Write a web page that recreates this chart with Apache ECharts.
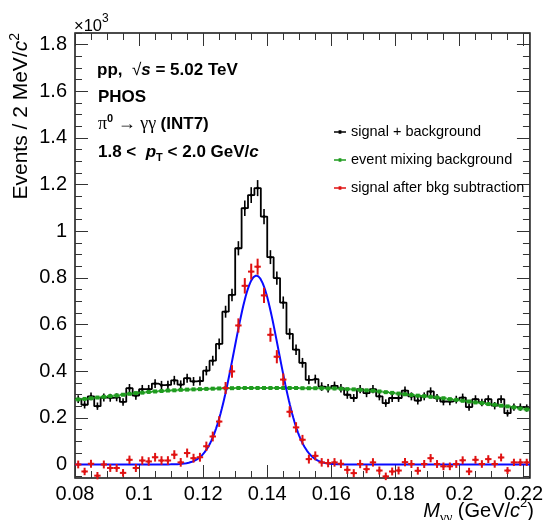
<!DOCTYPE html>
<html>
<head>
<meta charset="utf-8">
<script src="https://cdn.jsdelivr.net/npm/echarts@6/dist/echarts.min.js"></script>
<style>
  html, body { margin: 0; padding: 0; background: #fff; }
  #chart { width: 546px; height: 520px; }
</style>
</head>
<body>
<div id="chart"></div>
<script>
// Invariant-mass histogram binning (GeV/c^2)
const massLow = 0.08;
const binWidth = 0.002;

// Same-event pairs: signal + background (x10^3 counts per bin)
const sigPlusBkg = [
  0.280, 0.256, 0.292, 0.250, 0.287, 0.286, 0.288, 0.268, 0.327, 0.295,
  0.323, 0.323, 0.347, 0.340, 0.341, 0.361, 0.342, 0.370, 0.356, 0.358,
  0.402, 0.445, 0.517, 0.655, 0.727, 0.927, 1.099, 1.155, 1.185, 1.063,
  0.889, 0.799, 0.694, 0.560, 0.492, 0.436, 0.363, 0.366, 0.334, 0.327,
  0.337, 0.327, 0.299, 0.285, 0.323, 0.306, 0.323, 0.292, 0.263, 0.285,
  0.285, 0.317, 0.292, 0.274, 0.292, 0.313, 0.285, 0.270, 0.270, 0.278,
  0.287, 0.246, 0.280, 0.266, 0.280, 0.252, 0.280, 0.220, 0.246, 0.246,
  0.242
];

// Normalised mixed-event background
const mixedBkg = [
  0.279, 0.281, 0.284, 0.287, 0.290, 0.293, 0.296, 0.299, 0.303, 0.306,
  0.308, 0.311, 0.313, 0.315, 0.317, 0.318, 0.320, 0.321, 0.322, 0.323,
  0.324, 0.325, 0.326, 0.327, 0.327, 0.328, 0.328, 0.328, 0.328, 0.328,
  0.328, 0.328, 0.328, 0.328, 0.328, 0.327, 0.327, 0.327, 0.327, 0.326,
  0.326, 0.325, 0.323, 0.322, 0.320, 0.318, 0.316, 0.313, 0.310, 0.307,
  0.304, 0.301, 0.298, 0.295, 0.293, 0.290, 0.287, 0.284, 0.280, 0.277,
  0.273, 0.270, 0.266, 0.263, 0.259, 0.256, 0.252, 0.249, 0.245, 0.240,
  0.236
];

// Signal after background subtraction
const sigAfterSub = [
  0.000, -0.030, 0.003, -0.048, 0.000, -0.015, -0.015, -0.036, 0.020, -0.015,
  0.017, 0.013, 0.031, 0.017, 0.017, 0.042, 0.009, 0.049, 0.027, 0.031,
  0.078, 0.120, 0.184, 0.328, 0.399, 0.596, 0.766, 0.827, 0.848, 0.725,
  0.556, 0.462, 0.364, 0.226, 0.159, 0.106, 0.023, 0.037, 0.009, 0.006,
  0.009, 0.003, -0.023, -0.037, 0.002, -0.020, 0.009, -0.026, -0.051, -0.030,
  -0.026, 0.010, 0.002, -0.027, 0.002, 0.027, 0.002, -0.008, -0.008, 0.002,
  0.018, -0.030, 0.020, 0.002, 0.023, 0.002, 0.030, -0.026, 0.009, 0.009,
  0.009
];

// Gaussian peak fit parameters
const fitAmplitude = 0.81;
const fitMean = 0.1366;
const fitSigma = 0.0069;

// Axis ticks
const xMajorTicks = [0.08, 0.1, 0.12, 0.14, 0.16, 0.18, 0.2, 0.22];
const yMajorTicks = [0, 0.2, 0.4, 0.6, 0.8, 1, 1.2, 1.4, 1.6, 1.8];
const yRange = [-0.058, 1.85];

// ---------------------------------------------------------------
const xMin = massLow;
const xMax = +(massLow + sigPlusBkg.length * binWidth).toFixed(4);
const centers = sigPlusBkg.map((_, i) => +(massLow + (i + 0.5) * binWidth).toFixed(4));
const countErr = v => Math.sqrt(Math.max(v, 0) * 1000) / 1000;   // Poisson, counts in units of 10^3

function minorTicks(majors, sub, lo, hi) {
  const step = (majors[1] - majors[0]) / sub;
  const out = [];
  let v = majors[0];
  while (v - step >= lo - 1e-9) v -= step;
  for (; v <= hi + 1e-9; v += step) out.push(+v.toFixed(5));
  return out;
}
const xMinorTicks = minorTicks(xMajorTicks, 4, xMin, xMax);
const yMinorTicks = minorTicks(yMajorTicks, 4, yRange[0], yRange[1]);

const FONT = 'Liberation Sans, Arial, Helvetica, sans-serif';
const SERIF = 'Liberation Serif, Times New Roman, serif';
const fmt = v => String(+(+v).toFixed(3));

function xAxisDef(position, ticks, len, withLabels) {
  return {
    type: 'value', position, min: xMin, max: xMax,
    axisLine: { show: false, onZero: false },
    splitLine: { show: false },
    axisTick: { show: true, inside: true, length: len, customValues: ticks,
                lineStyle: { color: '#333', width: 1 } },
    axisLabel: withLabels
      ? { show: true, customValues: ticks, formatter: fmt, fontSize: 20, color: '#000', fontFamily: FONT, margin: 6 }
      : { show: false }
  };
}
function yAxisDef(position, ticks, len, withLabels) {
  return {
    type: 'value', position, min: yRange[0], max: yRange[1],
    axisLine: { show: false, onZero: false },
    splitLine: { show: false },
    axisTick: { show: true, inside: true, length: len, customValues: ticks,
                lineStyle: { color: '#333', width: 1 } },
    axisLabel: withLabels
      ? { show: true, customValues: ticks, formatter: fmt, fontSize: 20, color: '#000', fontFamily: FONT, margin: 8 }
      : { show: false }
  };
}

const BLACK = '#000000', GREEN = '#1f9c1f', RED = '#e01212', BLUE = '#0a0aff';

// histogram outline: bin-centre points with the outer edges added
const histLine = [[xMin, sigPlusBkg[0]]]
  .concat(centers.map((x, i) => [x, sigPlusBkg[i]]))
  .concat([[xMax, sigPlusBkg[sigPlusBkg.length - 1]]]);

const fitCurve = [];
for (let k = 0; k <= 400; k++) {
  const x = xMin + (xMax - xMin) * k / 400;
  fitCurve.push([x, fitAmplitude * Math.exp(-0.5 * Math.pow((x - fitMean) / fitSigma, 2))]);
}

function crossRenderer(color, opts) {
  return function (params, api) {
    const x = api.value(0), y = api.value(1), e = api.value(2);
    const c = api.coord([x, y]);
    const children = [];
    if (opts.horizontal) {
      const l = api.coord([x - binWidth / 2, y]), r = api.coord([x + binWidth / 2, y]);
      children.push({ type: 'line', shape: { x1: l[0], y1: c[1], x2: r[0], y2: c[1] },
                      style: { stroke: color, lineWidth: opts.width } });
    }
    if (opts.vertical) {
      const t = api.coord([x, y + e]), b = api.coord([x, y - e]);
      children.push({ type: 'line', shape: { x1: c[0], y1: t[1], x2: c[0], y2: b[1] },
                      style: { stroke: color, lineWidth: opts.width } });
    }
    children.push({ type: opts.marker === 'rect' ? 'rect' : 'circle',
                    shape: opts.marker === 'rect'
                      ? { x: c[0] - opts.size / 2, y: c[1] - opts.size / 2, width: opts.size, height: opts.size }
                      : { cx: c[0], cy: c[1], r: opts.size / 2 },
                    style: { fill: color } });
    return { type: 'group', children };
  };
}

const legendIcon = 'path://M0,1h12v1.6h-12z M4.6,0h2.8v3.6h-2.8z';

const chart = echarts.init(document.getElementById('chart'), null, { renderer: 'canvas' });
chart.setOption({
  animation: false,
  backgroundColor: '#ffffff',
  grid: { left: 75, right: 16, top: 33, bottom: 42, show: true, borderColor: '#111', borderWidth: 1.5, backgroundColor: 'transparent' },
  xAxis: [
    xAxisDef('bottom', xMajorTicks, 13, true),
    xAxisDef('bottom', xMinorTicks, 7, false),
    xAxisDef('top', xMajorTicks, 13, false),
    xAxisDef('top', xMinorTicks, 7, false)
  ],
  yAxis: [
    yAxisDef('left', yMajorTicks, 13, true),
    yAxisDef('left', yMinorTicks, 7, false),
    yAxisDef('right', yMajorTicks, 13, false),
    yAxisDef('right', yMinorTicks, 7, false)
  ],
  legend: {
    orient: 'vertical', left: 334, top: 124, padding: 0, itemWidth: 12, itemHeight: 3.6, itemGap: 12,
    selectedMode: false,
    textStyle: { fontSize: 14.5, color: '#000', fontFamily: FONT, lineHeight: 16 },
    data: [
      { name: 'signal + background', icon: legendIcon, itemStyle: { color: BLACK } },
      { name: 'event mixing background', icon: legendIcon, itemStyle: { color: GREEN } },
      { name: 'signal after bkg subtraction', icon: legendIcon, itemStyle: { color: RED } }
    ]
  },
  series: [
    {
      name: 'signal + background', type: 'line', step: 'middle', data: histLine,
      showSymbol: false, symbol: 'none', z: 2,
      lineStyle: { color: BLACK, width: 1.8 }, itemStyle: { color: BLACK }
    },
    {
      name: 'signal + background', type: 'custom', z: 3,
      itemStyle: { color: BLACK },
      data: centers.map((x, i) => [x, sigPlusBkg[i], countErr(sigPlusBkg[i])]),
      renderItem: crossRenderer(BLACK, { vertical: true, horizontal: false, width: 1.6, size: 3, marker: 'circle' })
    },
    {
      name: 'event mixing background', type: 'custom', z: 4,
      itemStyle: { color: GREEN },
      data: centers.map((x, i) => [x, mixedBkg[i], 0.003]),
      renderItem: crossRenderer(GREEN, { vertical: true, horizontal: true, width: 2, size: 4, marker: 'rect' })
    },
    {
      name: 'fit', type: 'line', data: fitCurve, showSymbol: false, symbol: 'none', z: 5,
      lineStyle: { color: BLUE, width: 2 }, itemStyle: { color: BLUE }, silent: true
    },
    {
      name: 'signal after bkg subtraction', type: 'custom', z: 6,
      itemStyle: { color: RED },
      data: centers.map((x, i) => [x, sigAfterSub[i], countErr(sigPlusBkg[i])]),
      renderItem: crossRenderer(RED, { vertical: true, horizontal: true, width: 2, size: 3, marker: 'circle' })
    }
  ],
  graphic: [
    // axis multiplier
    { type: 'text', x: 74, y: 24, style: {
        text: '{n|×10}{s|3}', verticalAlign: 'middle', align: 'left',
        rich: { n: { fontSize: 16.5, fontFamily: FONT, fill: '#000', lineHeight: 22, verticalAlign: 'bottom' },
                s: { fontSize: 12, fontFamily: FONT, fill: '#000', lineHeight: 12, verticalAlign: 'top' } } } },
    // y-axis title
    { type: 'text', x: 21, y: 33, rotation: Math.PI / 2, style: {
        text: '{n|Events / 2 MeV/}{i|c}{s|2}', align: 'right', verticalAlign: 'middle',
        rich: { n: { fontSize: 21, fontFamily: FONT, fill: '#000', lineHeight: 26 },
                i: { fontSize: 21, fontFamily: FONT, fontStyle: 'italic', fill: '#000', lineHeight: 26 },
                s: { fontSize: 14, fontFamily: FONT, fill: '#000', lineHeight: 14, verticalAlign: 'top' } } } },
    // x-axis title
    { type: 'text', x: 534, y: 511, style: {
        text: '{i|M}{g|γγ}{n| (GeV/}{i|c}{s|2}{n|)}', align: 'right', verticalAlign: 'middle',
        rich: { n: { fontSize: 20, fontFamily: FONT, fill: '#000', lineHeight: 28 },
                i: { fontSize: 20, fontFamily: FONT, fontStyle: 'italic', fill: '#000', lineHeight: 28 },
                g: { fontSize: 14, fontFamily: SERIF, fill: '#000', lineHeight: 14, verticalAlign: 'bottom' },
                s: { fontSize: 13, fontFamily: FONT, fill: '#000', lineHeight: 13, verticalAlign: 'top' } } } },
    // collision system
    { type: 'text', x: 97, y: 70, style: {
        text: '{b|pp,  }{r|√}{bi|s}{b| = 5.02 TeV}', verticalAlign: 'middle',
        rich: { b: { fontSize: 17, fontWeight: 'bold', fontFamily: FONT, fill: '#000', lineHeight: 22 },
                r: { fontSize: 17, fontFamily: FONT, fill: '#000', lineHeight: 22 },
                bi: { fontSize: 17, fontWeight: 'bold', fontStyle: 'italic', fontFamily: FONT, fill: '#000', lineHeight: 22 } } } },
    { type: 'text', x: 98, y: 97, style: {
        text: 'PHOS', verticalAlign: 'middle',
        fontSize: 17, fontWeight: 'bold', fontFamily: FONT, fill: '#000' } },
    { type: 'text', x: 98, y: 124, style: {
        text: '{g|π}{s|0}{g| → γγ }{b|(INT7)}', verticalAlign: 'middle',
        rich: { g: { fontSize: 18, fontFamily: SERIF, fill: '#000', lineHeight: 22 },
                s: { fontSize: 11, fontWeight: 'bold', fontFamily: FONT, fill: '#000', lineHeight: 11, verticalAlign: 'top' },
                b: { fontSize: 17, fontWeight: 'bold', fontFamily: FONT, fill: '#000', lineHeight: 22 } } } },
    { type: 'text', x: 98, y: 152, style: {
        text: '{b|1.8 <  }{bi|p}{t|T}{b| < 2.0 GeV/}{bi|c}', verticalAlign: 'middle',
        rich: { b: { fontSize: 17, fontWeight: 'bold', fontFamily: FONT, fill: '#000', lineHeight: 22 },
                bi: { fontSize: 17, fontWeight: 'bold', fontStyle: 'italic', fontFamily: FONT, fill: '#000', lineHeight: 22 },
                t: { fontSize: 11, fontWeight: 'bold', fontFamily: FONT, fill: '#000', lineHeight: 11, verticalAlign: 'bottom' } } } }
  ]
});
</script>
</body>
</html>
